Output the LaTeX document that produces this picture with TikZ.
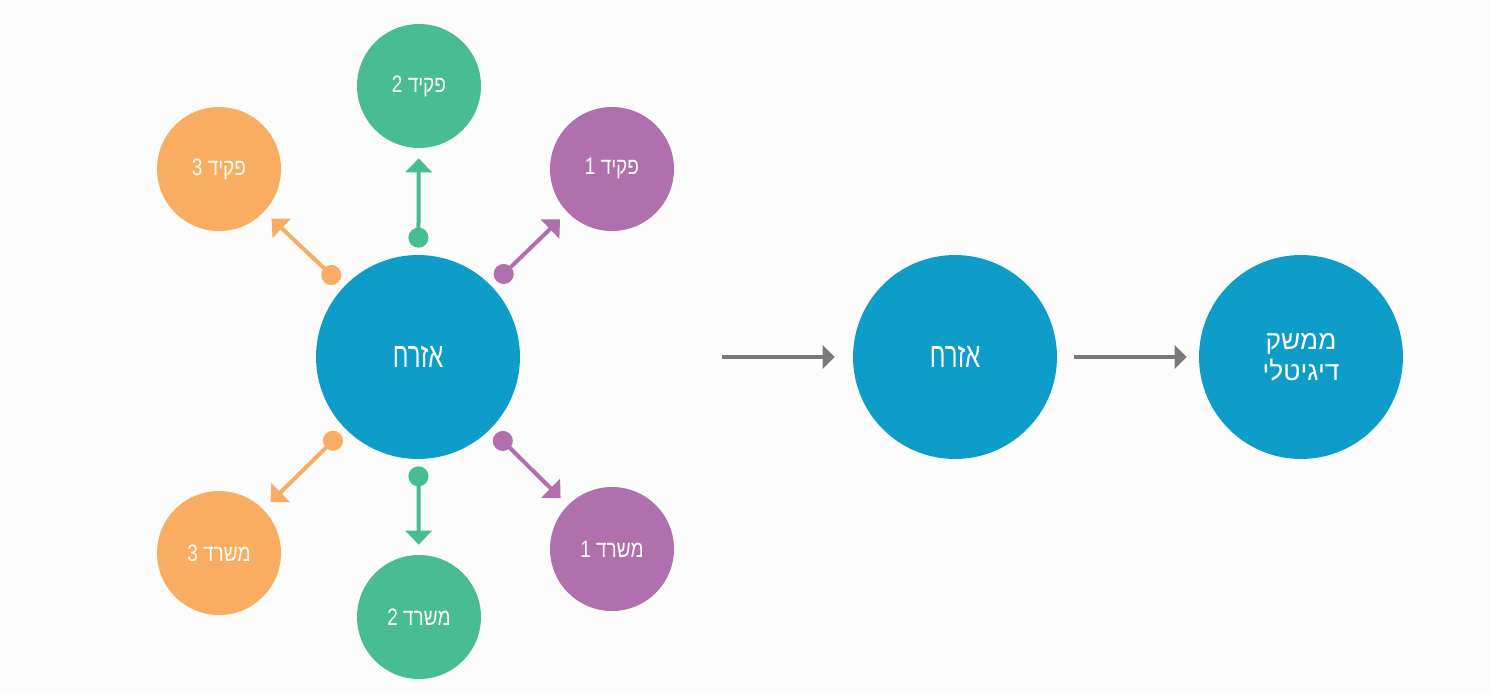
\documentclass[tikz,border=0pt]{standalone}
\usepackage{fontspec}
\newfontfamily\hebfont[Script=Hebrew,FakeStretch=0.68]{Liberation Sans}
\newfontfamily\hebmid[Script=Hebrew,FakeStretch=0.8]{Liberation Sans}
\newfontfamily\hebwide[Script=Hebrew]{Liberation Sans}
\TeXXeTstate=1
\usetikzlibrary{arrows.meta}

\definecolor{citizenblue}{HTML}{0E9DC8}
\definecolor{clerkgreen}{HTML}{48BD92}
\definecolor{deskorange}{HTML}{F8AD62}
\definecolor{officepurple}{HTML}{B070AE}
\definecolor{flowgray}{HTML}{7A7A7A}
\definecolor{paper}{HTML}{FCFCFC}

\begin{document}
\begin{tikzpicture}[x=0.02cm, y=-0.02cm,
	bigcirc/.style={circle, fill=citizenblue, minimum size=4.08cm, inner sep=0pt,
		text=white, font=\hebfont\fontsize{20}{24}\selectfont},
	smallcirc/.style={circle, minimum size=2.48cm, inner sep=0pt,
		text=white, font=\hebmid\fontsize{13.5}{16}\selectfont},
	link/.style={line width=0.08cm, {Circle[length=0.4cm]}-{Triangle[length=0.28cm,width=0.52cm]},
		shorten <=0.14cm, shorten >=0.2cm},
	flow/.style={line width=0.07cm, draw=flowgray, -{Triangle[length=0.24cm,width=0.46cm]}}]

\useasboundingbox[fill=paper] (0,0) rectangle (1491,693);

%citizen and the people around him
\node[bigcirc] (citizen) at (418,357) {\beginR אזרח\endR};
\node[smallcirc, fill=officepurple] (clerk1) at (612,169) {\beginR פקיד 1\endR};
\node[smallcirc, fill=clerkgreen] (clerk2) at (419,86) {\beginR פקיד 2\endR};
\node[smallcirc, fill=deskorange] (clerk3) at (219,169) {\beginR פקיד 3\endR};
\node[smallcirc, fill=officepurple] (office1) at (612,549) {\beginR משרד 1\endR};
\node[smallcirc, fill=clerkgreen] (office2) at (419,617) {\beginR משרד 2\endR};
\node[smallcirc, fill=deskorange] (office3) at (219,553) {\beginR משרד 3\endR};

\draw[link, officepurple] (citizen) -- (clerk1);
\draw[link, clerkgreen] (citizen) -- (clerk2);
\draw[link, deskorange] (citizen) -- (clerk3);
\draw[link, officepurple] (citizen) -- (office1);
\draw[link, clerkgreen] (citizen) -- (office2);
\draw[link, deskorange] (citizen) -- (office3);

%one interface instead
\coordinate (flowstart) at (722,357);
\node[bigcirc] (citizen2) at (955,357) {\beginR אזרח\endR};
\node[bigcirc, align=center, font=\hebwide\fontsize{15}{17.5}\selectfont] (portal) at (1301,357)
	{\beginR ממשק\endR\\\beginR דיגיטלי\endR};

\draw[flow, shorten >=0.36cm] (flowstart) -- (citizen2);
\draw[flow, shorten <=0.34cm, shorten >=0.24cm] (citizen2) -- (portal);
\end{tikzpicture}
\end{document}
